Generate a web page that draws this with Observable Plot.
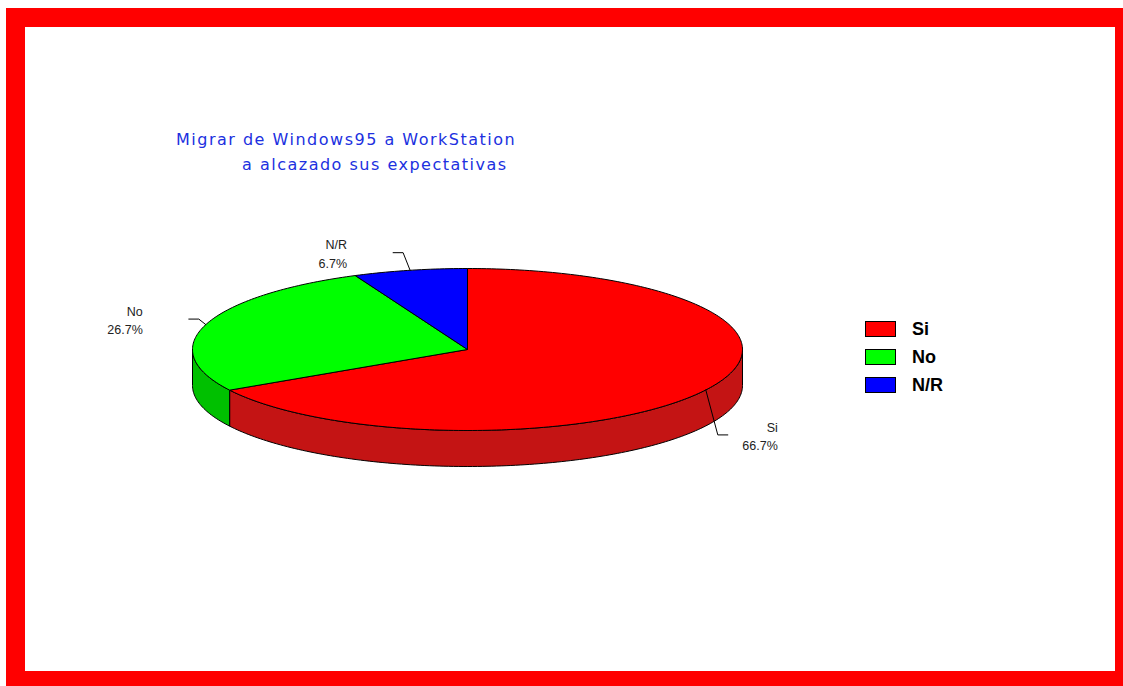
<!DOCTYPE html>
<html>
<head>
<meta charset="utf-8">
<script src="https://cdn.jsdelivr.net/npm/d3@7"></script>
<script src="https://cdn.jsdelivr.net/npm/@observablehq/plot@0.6"></script>
<style>
  html, body { margin: 0; padding: 0; background: #fff; }
  #frame {
    position: absolute; left: 6px; top: 8px;
    width: 1090px; height: 644px;
    border-style: solid; border-color: #ff0000;
    border-width: 19px 8px 15px 19px;
    background: #fff;
  }
  #chart { position: absolute; left: 0; top: 0; }
  #title {
    position: absolute; left: 151px; top: 100px;
    font-family: "DejaVu Sans", sans-serif; font-size: 16px;
    color: #2030e0; line-height: 25px; white-space: pre;
    letter-spacing: 1.5px;
  }
  #title .l2 { padding-left: 66px; }
  #legend { position: absolute; left: 840px; top: 288px; }
</style>
</head>
<body>
<div id="frame">
  <div id="chart"></div>
  <div id="title"><div class="l1">Migrar de Windows95 a WorkStation</div><div class="l2">a alcazado sus expectativas</div></div>
  <div id="legend"></div>
</div>
<script>
// ---- data ----
const categories = ["Si", "No", "N/R"];
const values = [66.7, 26.7, 6.7];
const pctLabels = ["66.7%", "26.7%", "6.7%"];
const topColors = ["#ff0000", "#00ff00", "#0000ff"];
const sideColors = ["#c41414", "#00c000", "#0000c0"];

// ---- layout ----
const W = 1090, H = 644;
const cx = 442, cy = 322, rx = 275, ry = 81, depthPx = 36;
const ux = 1 / rx, uy = 1 / ry;          // pixel -> unit conversions
const depth = depthPx * uy;

const total = d3.sum(values);
const sideKeys = categories.map(c => c + " (lado)");

function arc(a, b, yOff) {
  const n = Math.max(2, Math.ceil((b - a) / (Math.PI / 180)));
  const pts = [];
  for (let k = 0; k <= n; k++) {
    const t = a + (b - a) * k / n;
    pts.push({x: Math.sin(t), y: Math.cos(t) + yOff});
  }
  return pts;
}

let acc = 0;
const slices = categories.map((c, i) => {
  const a0 = acc / total * 2 * Math.PI;
  acc += values[i];
  const a1 = acc / total * 2 * Math.PI;
  return {i, c, a0, a1, mid: (a0 + a1) / 2};
});

const walls = [];
const tops = [];
for (const s of slices) {
  const st = Math.max(s.a0, Math.PI / 2), en = Math.min(s.a1, 3 * Math.PI / 2);
  if (st < en) {
    const upper = arc(st, en, 0);
    const lower = arc(st, en, -depth).reverse();
    const pts = [...upper, ...lower, upper[0]];
    pts.forEach(p => walls.push({...p, id: "w" + s.i, key: sideKeys[s.i]}));
  }
  const pts = [{x: 0, y: 0}, ...arc(s.a0, s.a1, 0), {x: 0, y: 0}];
  pts.forEach(p => tops.push({...p, id: "t" + s.i, key: s.c}));
}

const leaders = [];
const labelPts = [];
for (const s of slices) {
  const sx = Math.sin(s.mid), sy = Math.cos(s.mid);
  const side = sx < 0 ? -1 : 1;
  const front = sy < 0;
  const ex = sx + side * (front ? 12 : 7) * ux;
  const ey = sy + (front ? (sy * 18 * uy - depth) : sy * 18 * uy);
  const tx = ex + side * 10 * ux;
  leaders.push({x: sx, y: sy, id: s.i}, {x: ex, y: ey, id: s.i}, {x: tx, y: ey, id: s.i});
  labelPts.push({
    x: tx + (side < 0 ? -46 : 50) * ux,
    y: ey,
    text: s.c + "\n" + pctLabels[s.i]
  });
}

const chart = Plot.plot({
  width: W, height: H,
  margin: 0,
  x: {domain: [-cx * ux, (W - cx) * ux], axis: null},
  y: {domain: [(cy - H) * uy, cy * uy], axis: null},
  color: {domain: [...categories, ...sideKeys], range: [...topColors, ...sideColors]},
  style: {background: "transparent", overflow: "visible"},
  marks: [
    Plot.line(walls, {x: "x", y: "y", z: "id", fill: "key", stroke: "#000", strokeWidth: 1, curve: "linear"}),
    Plot.line(tops, {x: "x", y: "y", z: "id", fill: "key", stroke: "#000", strokeWidth: 1, curve: "linear"}),
    Plot.line(leaders, {x: "x", y: "y", z: "id", stroke: "#000", strokeWidth: 1, curve: "linear"}),
    Plot.text(labelPts, {
      x: "x", y: "y", text: "text",
      textAnchor: "end", lineAnchor: "middle", lineHeight: 1.45,
      fontSize: 12.5, fill: "#222", fontFamily: "Liberation Sans, Arial, sans-serif"
    })
  ]
});
document.getElementById("chart").appendChild(chart);

const legend = Plot.legend({
  color: {type: "ordinal", domain: categories, range: topColors},
  legend: "swatches", columns: 1, swatchWidth: 31, swatchHeight: 16
});
legend.style.font = "bold 18px 'Liberation Sans', Arial, sans-serif";
legend.style.color = "#000";
legend.style.margin = "0";
legend.querySelectorAll("svg").forEach(svg => {
  svg.style.border = "1px solid #000";
  svg.style.boxSizing = "border-box";
  svg.style.marginRight = "16px";
  const row = svg.parentElement;
  row.style.height = "28px";
  row.style.padding = "0";
  row.style.margin = "0";
  row.style.display = "flex";
  row.style.alignItems = "center";
});
document.getElementById("legend").appendChild(legend);
</script>
</body>
</html>
